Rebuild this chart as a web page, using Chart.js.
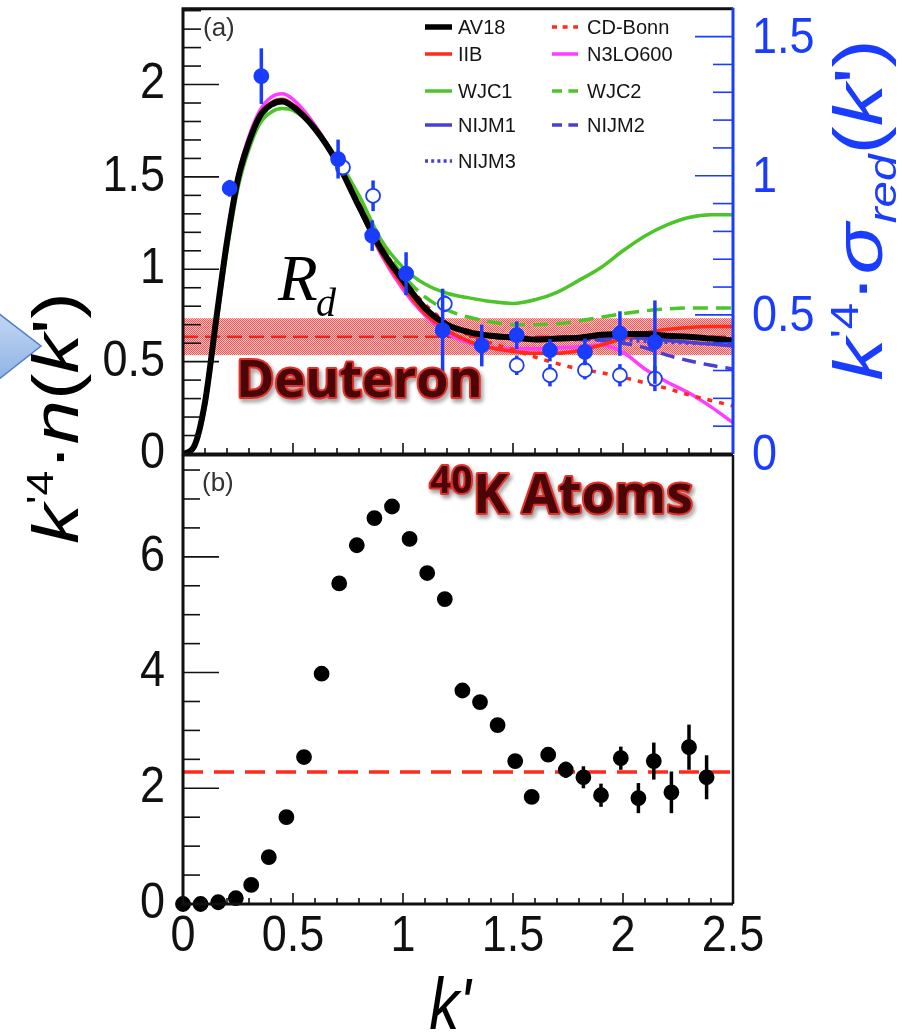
<!DOCTYPE html>
<html>
<head>
<meta charset="utf-8">
<script src="https://cdn.jsdelivr.net/npm/chart.js@4.4.1/dist/chart.umd.min.js"></script>
<style>
  html, body { margin: 0; padding: 0; background: #fff; }
  #wrap { position: relative; width: 902px; height: 1033px; overflow: hidden; background: #fff; }
  canvas { position: absolute; left: 0; top: 0; width: 902px; height: 1033px; }
</style>
</head>
<body>
<div id="wrap">
  <canvas id="panelA" width="902" height="1033"></canvas>
  <canvas id="panelB" width="902" height="1033"></canvas>
</div>
<script>
// ---------- panel (a): deuteron momentum distributions ----------
const kGrid   = [0,0.05,0.1,0.15,0.2,0.25,0.3,0.35,0.4,0.45,0.5,0.6,0.7,0.8,0.9,1.0,1.1,1.2,1.3,1.4,1.5,1.6,1.7,1.8,1.9,2.0,2.1,2.2,2.3,2.4,2.5];
const av18    = [0,0.04,0.28,0.72,1.15,1.49,1.69,1.83,1.89,1.91,1.88,1.76,1.58,1.34,1.11,0.94,0.79,0.70,0.66,0.64,0.63,0.62,0.625,0.63,0.645,0.65,0.65,0.64,0.635,0.625,0.615];
const iib     = [0,0.04,0.28,0.72,1.15,1.49,1.70,1.84,1.90,1.92,1.89,1.77,1.58,1.33,1.09,0.91,0.76,0.67,0.61,0.575,0.555,0.545,0.545,0.56,0.59,0.625,0.655,0.675,0.685,0.69,0.69];
const cdBonn  = [0,0.04,0.28,0.72,1.15,1.49,1.70,1.84,1.90,1.92,1.89,1.77,1.59,1.36,1.13,0.95,0.81,0.71,0.645,0.60,0.565,0.525,0.49,0.46,0.44,0.415,0.385,0.355,0.32,0.29,0.26];
const n3lo600 = [0,0.04,0.28,0.73,1.17,1.51,1.72,1.86,1.93,1.95,1.92,1.78,1.58,1.33,1.08,0.89,0.75,0.655,0.60,0.575,0.57,0.57,0.575,0.58,0.59,0.55,0.46,0.39,0.33,0.255,0.17];
const wjc1    = [0,0.03,0.25,0.68,1.10,1.44,1.65,1.79,1.85,1.87,1.86,1.76,1.60,1.40,1.16,1.01,0.92,0.87,0.845,0.825,0.815,0.835,0.875,0.94,1.01,1.10,1.18,1.24,1.28,1.295,1.295];
const wjc2    = [0,0.04,0.27,0.71,1.13,1.47,1.67,1.81,1.88,1.90,1.88,1.76,1.58,1.36,1.14,0.97,0.85,0.78,0.74,0.715,0.70,0.70,0.705,0.72,0.74,0.76,0.775,0.785,0.79,0.79,0.79];
const nijm1   = [0,0.04,0.28,0.72,1.15,1.49,1.69,1.83,1.89,1.91,1.88,1.76,1.58,1.34,1.10,0.93,0.79,0.70,0.655,0.635,0.625,0.62,0.62,0.625,0.63,0.63,0.625,0.615,0.605,0.595,0.585];
const nijm2   = [0,0.04,0.28,0.72,1.15,1.49,1.69,1.83,1.89,1.91,1.88,1.76,1.58,1.34,1.10,0.93,0.79,0.70,0.655,0.635,0.625,0.62,0.62,0.62,0.615,0.60,0.575,0.535,0.505,0.48,0.46];
const nijm3   = [0,0.04,0.28,0.72,1.15,1.49,1.69,1.83,1.89,1.91,1.88,1.76,1.58,1.34,1.10,0.93,0.79,0.70,0.655,0.635,0.625,0.62,0.62,0.62,0.62,0.615,0.61,0.605,0.60,0.595,0.59];

// measured reduced cross sections (right axis)
const sigFilledK   = [0.212,0.356,0.705,0.86,1.014,1.18,1.358,1.517,1.668,1.827,1.986,2.145];
const sigFilledVal = [0.955,1.358,1.06,0.785,0.648,0.444,0.39,0.427,0.373,0.367,0.433,0.402];
const sigFilledErr = [0.03,0.10,0.07,0.055,0.077,0.15,0.075,0.05,0.04,0.048,0.08,0.15];
const sigOpenK     = [0.727,0.864,1.19,1.517,1.668,1.827,1.986,2.145];
const sigOpenVal   = [1.03,0.928,0.54,0.319,0.283,0.301,0.283,0.271];
const sigOpenErr   = [0.03,0.055,0.03,0.035,0.04,0.033,0.04,0.045];

// R_d band (left axis)
const rdLow = 0.535, rdMid = 0.635, rdHigh = 0.735;

// ---------- panel (b): 40K atoms ----------
const atomsK   = [0,0.08,0.16,0.24,0.31,0.39,0.47,0.55,0.63,0.71,0.79,0.87,0.95,1.03,1.11,1.19,1.27,1.35,1.43,1.51,1.585,1.66,1.74,1.82,1.90,1.99,2.07,2.14,2.22,2.30,2.38];
const atomsN   = [0,0,0.03,0.10,0.33,0.81,1.50,2.54,3.98,5.54,6.20,6.67,6.87,6.31,5.72,5.27,3.69,3.49,3.09,2.47,1.85,2.58,2.32,2.19,1.88,2.52,1.83,2.47,1.93,2.71,2.19];
const atomsErr = [0.02,0.02,0.02,0.03,0.04,0.05,0.06,0.07,0.08,0.09,0.1,0.1,0.1,0.1,0.1,0.1,0.1,0.1,0.1,0.1,0.12,0.12,0.14,0.19,0.2,0.2,0.26,0.32,0.36,0.39,0.38];
const atomsPlateau = 2.28;

// axis tick labels
const xTicks      = [0, 0.5, 1, 1.5, 2, 2.5];
const yTicksN     = [0, 0.5, 1, 1.5, 2];
const yTicksSigma = [0, 0.5, 1, 1.5];
const yTicksAtoms = [0, 2, 4, 6];

// legend layout (two columns)
const legendCol1 = ['AV18', 'IIB', 'WJC1', 'NIJM1', 'NIJM3'];
const legendCol2 = ['CD-Bonn', 'N3LO600', 'WJC2', 'NIJM2'];

const BLUE = '#1a3cff';
const RED = '#ff2a1a';
const SANS = '"Liberation Sans", Arial, Helvetica, sans-serif';
const SERIF = '"Liberation Serif", "Times New Roman", serif';
const BOLD = '"Open Sans", "DejaVu Sans", sans-serif';

function curve(label, ys, color, width, dash) {
  return {
    label, yAxisID: 'yN',
    data: kGrid.map((x, i) => ({ x, y: ys[i] })),
    borderColor: color, borderWidth: width, borderDash: dash,
    pointRadius: 0, fill: false, cubicInterpolationMode: 'monotone',
    borderCapStyle: 'butt', order: 2
  };
}

function points(label, xs, ys, errs, axis, fillColor, edgeColor, radius, errColor) {
  return {
    label, yAxisID: axis, showLine: false,
    data: xs.map((x, i) => ({ x, y: ys[i] })),
    errors: errs, errColor,
    pointRadius: radius, pointBackgroundColor: fillColor,
    pointBorderColor: edgeColor, pointBorderWidth: 1.8, order: 1
  };
}

// error bars are drawn just before their own point set
const errorBars = {
  id: 'errorBars',
  beforeDatasetDraw(chart, args) {
    const ds = chart.data.datasets[args.index];
    if (!ds.errors) return;
    const ys = chart.scales[args.meta.yAxisID];
    const xs = chart.scales[args.meta.xAxisID];
    const ctx = chart.ctx;
    ctx.save();
    ctx.strokeStyle = ds.errColor;
    ctx.lineWidth = 3.5;
    ds.data.forEach((p, i) => {
      const x = xs.getPixelForValue(p.x);
      ctx.beginPath();
      ctx.moveTo(x, ys.getPixelForValue(p.y - ds.errors[i]));
      ctx.lineTo(x, ys.getPixelForValue(p.y + ds.errors[i]));
      ctx.stroke();
    });
    ctx.restore();
  }
};

function tickLabel(ctx, text, x, y, color, align) {
  ctx.save();
  ctx.translate(x, y);
  ctx.scale(1, 1.12);
  ctx.font = '45px ' + SANS;
  ctx.fillStyle = color;
  ctx.textAlign = align;
  ctx.textBaseline = 'middle';
  ctx.fillText(text, 0, 0);
  ctx.restore();
}

function tickMarks(ctx, n, step, majorEvery, pix, draw) {
  for (let i = 0; i <= n; i++) {
    const v = i * step;
    draw(pix(v), i % majorEvery === 0);
  }
}

function rotatedTitle(ctx, runs, bx, cy, stretch, color) {
  ctx.save();
  ctx.translate(bx, cy);
  ctx.rotate(-Math.PI / 2);
  ctx.scale(stretch, 1);
  ctx.fillStyle = color;
  ctx.textAlign = 'left';
  ctx.textBaseline = 'alphabetic';
  let total = 0;
  for (const r of runs) { ctx.font = r.font; r.w = ctx.measureText(r.t).width; total += r.w; }
  let x = -total / 2;
  for (const r of runs) { ctx.font = r.font; ctx.fillText(r.t, x, r.dy || 0); x += r.w; }
  ctx.restore();
}

function outlinedText(ctx, text, x, y, font) {
  ctx.save();
  ctx.font = font;
  ctx.textAlign = 'left';
  ctx.textBaseline = 'alphabetic';
  ctx.lineJoin = 'round';
  ctx.shadowColor = 'rgba(0,0,0,0.45)';
  ctx.shadowBlur = 4;
  ctx.shadowOffsetX = 2;
  ctx.shadowOffsetY = 3;
  ctx.strokeStyle = '#e3302b';
  ctx.lineWidth = 4;
  ctx.strokeText(text, x, y);
  ctx.shadowColor = 'transparent';
  ctx.fillStyle = '#4a0606';
  ctx.fillText(text, x, y);
  ctx.restore();
}

function bandPattern(ctx) {
  const c = document.createElement('canvas');
  c.width = 2; c.height = 2;
  const g = c.getContext('2d');
  g.fillStyle = '#f45454'; g.fillRect(0, 0, 2, 2);
  g.fillStyle = '#ffcaca'; g.fillRect(1, 0, 1, 1); g.fillRect(0, 1, 1, 1);
  return ctx.createPattern(c, 'repeat');
}

const panelADecor = {
  id: 'panelADecor',
  beforeDatasetsDraw(chart) {
    const { ctx, chartArea: a } = chart;
    const yN = chart.scales.yN;
    const top = yN.getPixelForValue(rdHigh), bot = yN.getPixelForValue(rdLow);
    ctx.save();
    ctx.fillStyle = bandPattern(ctx);
    ctx.fillRect(a.left, top, a.right - a.left, bot - top);
    const ym = yN.getPixelForValue(rdMid);
    ctx.strokeStyle = '#e8281e';
    ctx.lineWidth = 2.5;
    ctx.setLineDash([15, 7]);
    ctx.beginPath(); ctx.moveTo(a.left, ym); ctx.lineTo(a.right, ym); ctx.stroke();
    ctx.restore();
  },
  afterDraw(chart) {
    const { ctx, chartArea: a } = chart;
    const x = chart.scales.x, yN = chart.scales.yN, yS = chart.scales.yS;
    ctx.save();

    // arrow shape at the left edge
    const grad = ctx.createLinearGradient(0, 313, 0, 380);
    grad.addColorStop(0, '#c3d7f3');
    grad.addColorStop(1, '#8fb2e4');
    ctx.fillStyle = grad;
    ctx.strokeStyle = '#4f7fc8';
    ctx.lineWidth = 1.5;
    ctx.beginPath(); ctx.moveTo(-2, 313); ctx.lineTo(41, 346); ctx.lineTo(-2, 380); ctx.closePath();
    ctx.fill(); ctx.stroke();

    // tick marks
    ctx.lineWidth = 1.6;
    ctx.strokeStyle = '#111';
    tickMarks(ctx, 24, 0.1, 5, v => yN.getPixelForValue(v), (y, major) => {
      ctx.beginPath(); ctx.moveTo(a.left, y); ctx.lineTo(a.left + (major ? 36 : 18), y); ctx.stroke();
    });
    tickMarks(ctx, 25, 0.1, 5, v => x.getPixelForValue(v), (px, major) => {
      ctx.beginPath(); ctx.moveTo(px, a.bottom); ctx.lineTo(px, a.bottom - (major ? 11 : 6)); ctx.stroke();
    });
    ctx.strokeStyle = BLUE;
    tickMarks(ctx, 16, 0.1, 5, v => yS.getPixelForValue(v), (y, major) => {
      ctx.beginPath(); ctx.moveTo(a.right, y); ctx.lineTo(a.right - (major ? 38 : 20), y); ctx.stroke();
    });

    // frame
    ctx.lineWidth = 3;
    ctx.strokeStyle = '#111';
    ctx.beginPath();
    ctx.moveTo(a.right, a.top); ctx.lineTo(a.left, a.top); ctx.lineTo(a.left, a.bottom); ctx.lineTo(a.right, a.bottom);
    ctx.stroke();
    ctx.strokeStyle = BLUE;
    ctx.beginPath(); ctx.moveTo(a.right, a.top - 1); ctx.lineTo(a.right, a.bottom); ctx.stroke();

    // tick labels
    yTicksN.forEach(v => tickLabel(ctx, String(v), 165, yN.getPixelForValue(v), '#111', 'right'));
    yTicksSigma.forEach(v => tickLabel(ctx, String(v), 752, yS.getPixelForValue(v) + 2, BLUE, 'left'));

    // panel tag
    ctx.font = '26px ' + SANS;
    ctx.fillStyle = '#333';
    ctx.textAlign = 'left';
    ctx.textBaseline = 'middle';
    ctx.fillText('(a)', 203, 29);

    // legend
    const rows = [27, 54, 91, 125, 161];
    const byLabel = {};
    chart.data.datasets.forEach(d => { byLabel[d.label] = d; });
    const entry = (label, row, x0, x1, tx) => {
      const d = byLabel[label];
      ctx.save();
      ctx.strokeStyle = d.borderColor;
      ctx.lineWidth = label === 'AV18' ? 5.5 : 3.5;
      ctx.setLineDash(d.borderDash && d.borderDash.length ? [Math.min(d.borderDash[0], 10), d.borderDash[1] * 0.8] : []);
      ctx.beginPath(); ctx.moveTo(x0, rows[row]); ctx.lineTo(x1, rows[row]); ctx.stroke();
      ctx.restore();
      ctx.fillStyle = '#151515';
      ctx.font = '20px ' + SANS;
      ctx.textAlign = 'left';
      ctx.textBaseline = 'middle';
      ctx.fillText(label, tx, rows[row] + 1);
    };
    legendCol1.forEach((l, i) => entry(l, i, 425, 452, 458));
    legendCol2.forEach((l, i) => entry(l, i, 552, 578, 587));

    // R_d marker
    ctx.fillStyle = '#000';
    ctx.textAlign = 'left';
    ctx.textBaseline = 'alphabetic';
    ctx.font = 'italic 65px ' + SERIF;
    ctx.fillText('R', 278, 300);
    ctx.font = 'italic 40px ' + SERIF;
    ctx.fillText('d', 316, 316);

    outlinedText(ctx, 'Deuteron', 236, 397, 'bold 52px ' + BOLD);

    // left axis title  k'^4 · n(k')
    const I = 'italic 64px ' + SANS, N = '64px ' + SANS, S = '36px ' + SANS;
    rotatedTitle(ctx, [
      { t: 'k', font: I }, { t: "'4", font: S, dy: -25 }, { t: '·', font: N },
      { t: 'n', font: I }, { t: '(', font: N }, { t: 'k', font: I }, { t: "'", font: N }, { t: ')', font: N }
    ], 78, 418, 1.24, '#000');

    // right axis title  k'^4 · σ_red(k')
    const I2 = 'italic 68px ' + SANS, N2 = '68px ' + SANS, S2 = '38px ' + SANS, R2 = 'italic 38px ' + SANS;
    rotatedTitle(ctx, [
      { t: 'k', font: I2 }, { t: "'4", font: S2, dy: -24 }, { t: '·', font: N2 },
      { t: 'σ', font: I2 }, { t: 'red', font: R2, dy: 14 }, { t: '(', font: N2 },
      { t: 'k', font: I2 }, { t: "'", font: N2 }, { t: ')', font: N2 }
    ], 882, 210, 1.25, BLUE);

    // bottom axis title
    ctx.save();
    ctx.translate(450, 1029);
    ctx.scale(1, 1.2);
    ctx.font = 'italic 60px ' + SANS;
    ctx.fillStyle = '#000';
    ctx.textAlign = 'center';
    ctx.textBaseline = 'alphabetic';
    ctx.fillText("k'", 0, 0);
    ctx.restore();

    ctx.restore();
  }
};

const panelBDecor = {
  id: 'panelBDecor',
  afterDraw(chart) {
    const { ctx, chartArea: a } = chart;
    const x = chart.scales.x, y = chart.scales.y;
    ctx.save();
    ctx.lineWidth = 1.6;
    ctx.strokeStyle = '#111';
    tickMarks(ctx, 15, 0.5, 4, v => y.getPixelForValue(v), (py, major) => {
      ctx.beginPath(); ctx.moveTo(a.left, py); ctx.lineTo(a.left + (major ? 36 : 17), py); ctx.stroke();
    });
    tickMarks(ctx, 25, 0.1, 5, v => x.getPixelForValue(v), (px, major) => {
      ctx.beginPath(); ctx.moveTo(px, a.bottom); ctx.lineTo(px, a.bottom - (major ? 11 : 6)); ctx.stroke();
    });
    ctx.lineWidth = 3;
    ctx.beginPath();
    ctx.moveTo(a.left, a.top); ctx.lineTo(a.right, a.top);
    ctx.moveTo(a.left, a.top); ctx.lineTo(a.left, a.bottom); ctx.lineTo(a.right, a.bottom);
    ctx.stroke();
    ctx.lineWidth = 2.5;
    ctx.beginPath(); ctx.moveTo(a.right, a.top); ctx.lineTo(a.right, a.bottom); ctx.stroke();

    yTicksAtoms.forEach(v => tickLabel(ctx, String(v), 165, y.getPixelForValue(v), '#111', 'right'));
    xTicks.forEach(v => tickLabel(ctx, String(v), x.getPixelForValue(v), 937, '#111', 'center'));

    ctx.font = '26px ' + SANS;
    ctx.fillStyle = '#333';
    ctx.textAlign = 'left';
    ctx.textBaseline = 'middle';
    ctx.fillText('(b)', 202, 484);

    outlinedText(ctx, '40', 430, 493, 'bold 37px ' + BOLD);
    outlinedText(ctx, 'K Atoms', 473, 513, 'bold 53px ' + BOLD);
    ctx.restore();
  }
};

const noAxis = () => ({
  ticks: { display: false }, grid: { display: false, drawTicks: false }, border: { display: false }
});

new Chart(document.getElementById('panelA'), {
  type: 'line',
  data: {
    datasets: [
      points('data', sigFilledK, sigFilledVal, sigFilledErr, 'yS', BLUE, BLUE, 7, BLUE),
      points('data (alt.)', sigOpenK, sigOpenVal, sigOpenErr, 'yS', '#ffffff', BLUE, 7, BLUE),
      curve('AV18', av18, '#000000', 6, []),
      curve('IIB', iib, RED, 3.5, []),
      curve('CD-Bonn', cdBonn, RED, 3.5, [5, 7]),
      curve('N3LO600', n3lo600, '#ff3cff', 3.5, []),
      curve('WJC1', wjc1, '#4cc42a', 3.5, []),
      curve('WJC2', wjc2, '#4cc42a', 3.5, [15, 8]),
      curve('NIJM1', nijm1, '#4a3fd0', 3.5, []),
      curve('NIJM2', nijm2, '#4a3fd0', 3.5, [14, 8]),
      curve('NIJM3', nijm3, '#4a3fd0', 3.5, [3, 4])
    ]
  },
  options: {
    responsive: false, animation: false, devicePixelRatio: 1, events: [],
    layout: { padding: { top: 6, bottom: 579, left: 0, right: 0 } },
    plugins: { legend: { display: false }, tooltip: { enabled: false } },
    scales: {
      x: { type: 'linear', min: 0, max: 2.5, display: false },
      yN: Object.assign(noAxis(), { type: 'linear', position: 'left', min: 0, max: 2.41,
        afterFit(s) { s.width = 183; s.paddingTop = 0; s.paddingBottom = 0; } }),
      yS: Object.assign(noAxis(), { type: 'linear', position: 'right', min: 0, max: 1.6,
        afterFit(s) { s.width = 169; s.paddingTop = 0; s.paddingBottom = 0; } })
    }
  },
  plugins: [errorBars, panelADecor]
});

new Chart(document.getElementById('panelB'), {
  type: 'line',
  data: {
    datasets: [
      Object.assign(points('40K', atomsK, atomsN, atomsErr, 'y', '#000000', '#000000', 7, '#000000'), { clip: false }),
      { label: 'plateau', yAxisID: 'y', data: [{ x: 0, y: atomsPlateau }, { x: 2.5, y: atomsPlateau }],
        borderColor: RED, borderWidth: 3.5, borderDash: [20, 11], pointRadius: 0, fill: false, order: 2 }
    ]
  },
  options: {
    responsive: false, animation: false, devicePixelRatio: 1, events: [],
    layout: { padding: { top: 455, bottom: 0, left: 0, right: 169 } },
    plugins: { legend: { display: false }, tooltip: { enabled: false } },
    scales: {
      x: Object.assign(noAxis(), { type: 'linear', min: 0, max: 2.5,
        afterFit(s) { s.height = 129; s.paddingLeft = 0; s.paddingRight = 0; } }),
      y: Object.assign(noAxis(), { type: 'linear', position: 'left', min: 0, max: 7.76,
        afterFit(s) { s.width = 183; s.paddingTop = 0; s.paddingBottom = 0; } })
    }
  },
  plugins: [errorBars, panelBDecor]
});
</script>
</body>
</html>
